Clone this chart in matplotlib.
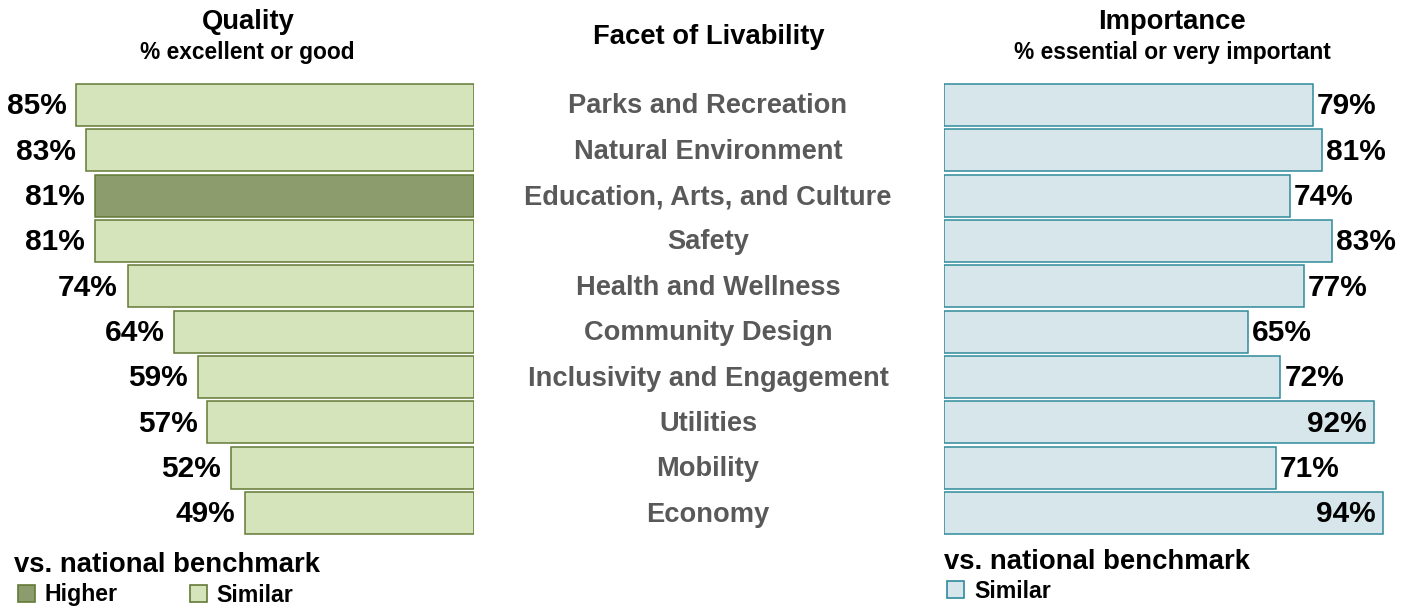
import matplotlib
matplotlib.use("Agg")
import matplotlib.pyplot as plt
from matplotlib.patches import Rectangle

plt.rcParams['font.family'] = ['Liberation Sans', 'DejaVu Sans']

facets = ["Parks and Recreation", "Natural Environment", "Education, Arts, and Culture",
          "Safety", "Health and Wellness", "Community Design", "Inclusivity and Engagement",
          "Utilities", "Mobility", "Economy"]
quality = [85, 83, 81, 81, 74, 64, 59, 57, 52, 49]
quality_bench = ["Similar", "Similar", "Higher", "Similar", "Similar", "Similar",
                 "Similar", "Similar", "Similar", "Similar"]
importance = [79, 81, 74, 83, 77, 65, 72, 92, 71, 94]
importance_bench = ["Similar"] * 10

W, H = 1411, 608
fig = plt.figure(figsize=(W / 100, H / 100), dpi=100)

green_light = "#d6e4bc"
green_dark = "#8c9c6c"
green_edge = "#637a35"
blue_light = "#d6e6eb"
blue_edge = "#2f8a9b"
gray = "#595959"

top = 1 - 82.3 / H
bottom = 1 - 535.7 / H

def fx(px):
    return px / W

def fy(py):
    return 1 - py / H

axL = fig.add_axes([fx(6), bottom, fx(468), top - bottom])
axR = fig.add_axes([fx(944), bottom, fx(467), top - bottom])

y = list(range(len(facets)))
colsL = [green_dark if b == "Higher" else green_light for b in quality_bench]
axL.barh(y, quality, height=0.93, color=colsL, edgecolor=green_edge, linewidth=1.1)
axL.set_xlim(100, 0)
axL.set_ylim(len(facets) - 0.5, -0.5)
for yi, v in zip(y, quality):
    axL.annotate(f"{v}%", (v, yi), xytext=(-7, -1), textcoords="offset points",
                 ha="right", va="center", fontsize=21.5, fontweight="bold", color="black")

axR.barh(y, importance, height=0.93, color=blue_light, edgecolor=blue_edge, linewidth=1.1)
axR.set_xlim(0, 100)
axR.set_ylim(len(facets) - 0.5, -0.5)
for yi, v in zip(y, importance):
    if v >= 88:
        axR.annotate(f"{v}%", (v, yi), xytext=(-5, -1), textcoords="offset points",
                     ha="right", va="center", fontsize=21.5, fontweight="bold", color="black")
    else:
        axR.annotate(f"{v}%", (v, yi), xytext=(3, -1), textcoords="offset points",
                     ha="left", va="center", fontsize=21.5, fontweight="bold", color="black")

for ax in (axL, axR):
    ax.axis("off")

# center labels
for yi, name in zip(y, facets):
    yc = axL.transData.transform((0, yi))[1]
    yfig = fig.transFigure.inverted().transform((0, yc))[1] - 1.5 / H
    fig.text(fx(708), yfig, name, ha="center", va="center", fontsize=19.6,
             fontweight="bold", color=gray)

# titles
fig.text(fx(248), fy(22), "Quality", ha="center", va="center", fontsize=19.7, fontweight="bold")
fig.text(fx(247), fy(52), "% excellent or good", ha="center", va="center", fontsize=16.4, fontweight="bold")
fig.text(fx(709), fy(37), "Facet of Livability", ha="center", va="center", fontsize=19.7, fontweight="bold")
fig.text(fx(1172), fy(22), "Importance", ha="center", va="center", fontsize=19.7, fontweight="bold")
fig.text(fx(1172), fy(52), "% essential or very important", ha="center", va="center", fontsize=16.4, fontweight="bold")

# legends
def square(xp, yp, fc, ec):
    fig.patches.append(Rectangle((fx(xp), fy(yp + 17)), fx(17), 17 / H, transform=fig.transFigure,
                                 facecolor=fc, edgecolor=ec, linewidth=1.2))

fig.text(fx(14), fy(565), "vs. national benchmark", ha="left", va="center", fontsize=19.8, fontweight="bold")
square(18, 585, green_dark, green_edge)
fig.text(fx(44), fy(595), "Higher", ha="left", va="center", fontsize=16.7, fontweight="bold")
square(190, 585, green_light, green_edge)
fig.text(fx(216), fy(595), "Similar", ha="left", va="center", fontsize=16.7, fontweight="bold")

fig.text(fx(944), fy(562), "vs. national benchmark", ha="left", va="center", fontsize=19.8, fontweight="bold")
square(947, 581, blue_light, blue_edge)
fig.text(fx(974), fy(591), "Similar", ha="left", va="center", fontsize=16.7, fontweight="bold")

fig.savefig("out.png", dpi=100)
